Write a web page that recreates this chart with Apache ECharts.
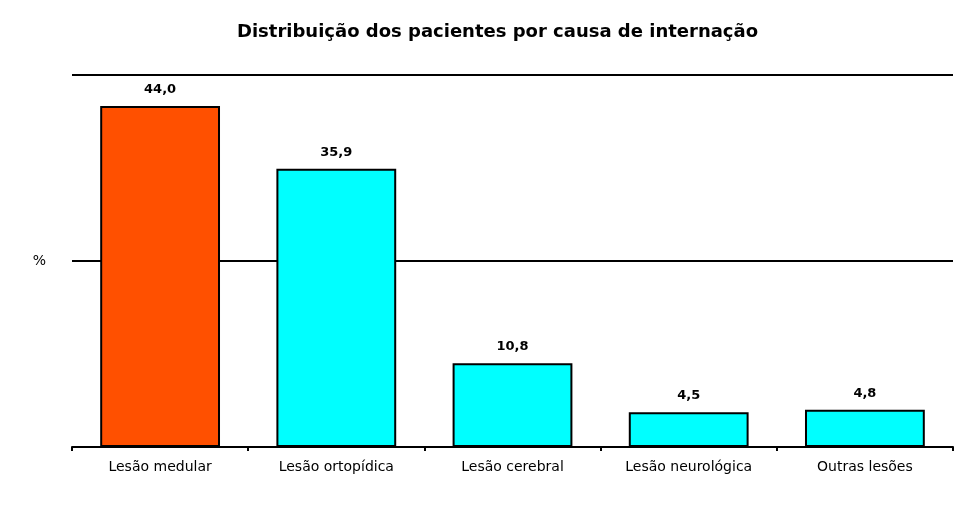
<!DOCTYPE html>
<html lang="pt">
<head>
    <meta charset="UTF-8">
    <title>Distribuição dos pacientes</title>
    <script src="https://cdn.jsdelivr.net/npm/echarts@6/dist/echarts.min.js"></script>
    <style>
        html, body { margin: 0; padding: 0; background: #fff; }
        #grafico { width: 954px; height: 507px; }
    </style>
</head>
<body>
    <div id="grafico"></div>
    <script>
        var categorias = ['Lesão medular', 'Lesão ortopídica', 'Lesão cerebral', 'Lesão neurológica', 'Outras lesões'];
        var valores = [44.0, 35.9, 10.8, 4.5, 4.8];
        var cores = ['#ff5000', '#00ffff', '#00ffff', '#00ffff', '#00ffff'];

        var chart = echarts.init(document.getElementById('grafico'));

        var option = {
            backgroundColor: '#fff',
            title: {
                text: 'Distribuição dos pacientes por causa de internação',
                left: 232,
                top: 18,
                textStyle: { fontFamily: 'DejaVu Sans', fontWeight: 'bold', fontSize: 18, color: '#000' }
            },
            grid: { left: 72, right: 1, top: 75, bottom: 60 },
            xAxis: {
                type: 'category',
                data: categorias,
                axisLine: { lineStyle: { color: '#000', width: 2 } },
                axisTick: { show: true, length: 4, lineStyle: { color: '#000', width: 2 } },
                axisLabel: { fontFamily: 'DejaVu Sans', fontSize: 14, color: '#000', margin: 13 }
            },
            yAxis: {
                type: 'value',
                min: 0,
                max: 48,
                interval: 24,
                axisLine: { show: false },
                axisTick: { show: false },
                splitLine: { lineStyle: { color: '#000', width: 2 } },
                axisLabel: {
                    margin: 26,
                    fontFamily: 'DejaVu Sans',
                    fontSize: 14,
                    color: '#000',
                    formatter: function (v) { return v === 24 ? '%' : ''; }
                }
            },
            series: [{
                type: 'bar',
                barCategoryGap: '32%',
                data: valores.map(function (v, i) {
                    return { value: v, itemStyle: { color: cores[i] } };
                }),
                itemStyle: { borderColor: '#000', borderWidth: 2 },
                label: {
                    show: true,
                    position: 'top',
                    distance: 10,
                    fontFamily: 'DejaVu Sans',
                    fontWeight: 'bold',
                    fontSize: 13,
                    color: '#000',
                    formatter: function (p) { return p.value.toFixed(1).replace('.', ','); }
                }
            }]
        };

        chart.setOption(option);
    </script>
</body>
</html>
